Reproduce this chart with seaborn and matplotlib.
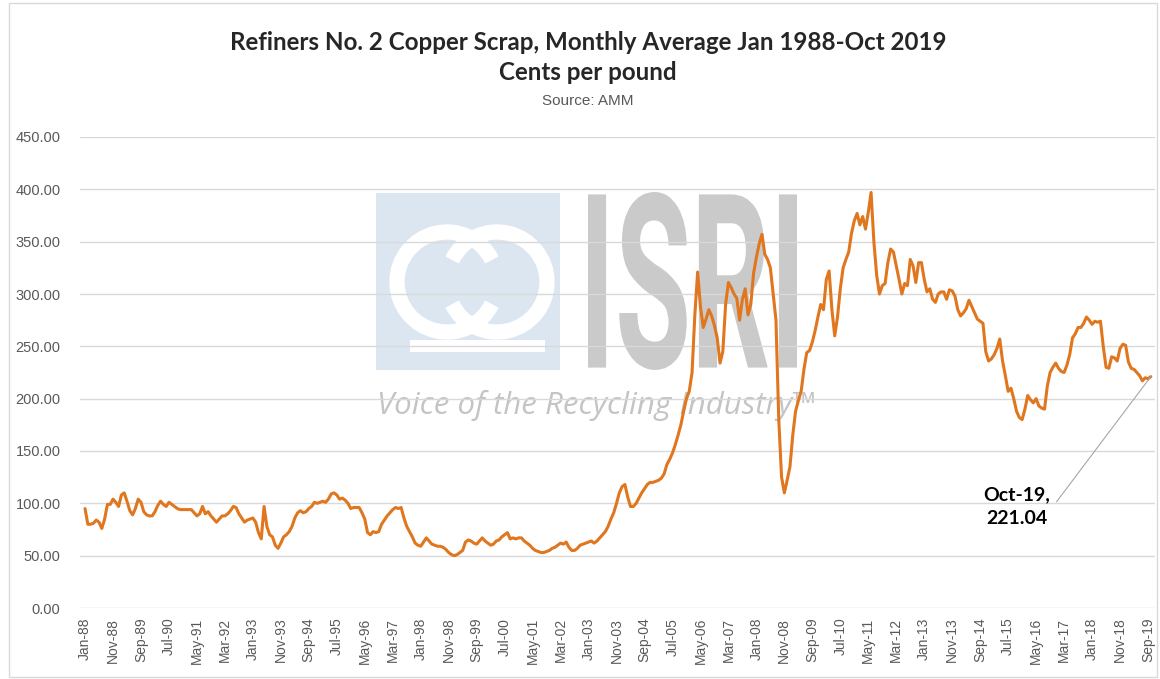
# ============================================================
# REFINERS NO. 2 COPPER SCRAP - MONTHLY AVERAGE 1988-2019
# ============================================================

import pandas as pd
import matplotlib
matplotlib.use("Agg")
import matplotlib.pyplot as plt
import seaborn as sns
from matplotlib.patches import Rectangle, Arc, PathPatch
from matplotlib.textpath import TextPath
from matplotlib.font_manager import FontProperties
from matplotlib.transforms import Affine2D

# Monthly averages (cents per pound), Jan 1988 -> Oct 2019
precios_1988_1995 = [
    95, 80, 80, 81, 84, 82, 76, 85, 99, 99, 104, 101,
    97, 108, 110, 102, 93, 89, 95, 104, 101, 92, 89, 88,
    88, 92, 98, 102, 99, 97, 101, 99, 97, 95, 94, 94,
    94, 94, 94, 91, 88, 90, 97, 90, 92, 88, 85, 82,
    85, 88, 88, 90, 93, 97, 96, 90, 86, 82, 84, 85,
    86, 82, 72, 66, 97, 78, 70, 68, 60, 57, 62, 68,
    70, 73, 78, 86, 91, 93, 91, 92, 95, 97, 101, 100,
    101, 102, 101, 104, 109, 110, 108, 104, 105, 103, 100, 95,
]
precios_1996_2003 = [
    96, 96, 96, 91, 85, 72, 70, 73, 72, 73, 80, 84,
    88, 91, 94, 96, 95, 96, 86, 78, 73, 68, 62, 60,
    59, 63, 67, 64, 61, 60, 59, 59, 58, 56, 53, 51,
    50, 51, 53, 55, 63, 65, 64, 62, 61, 64, 67, 64,
    62, 60, 61, 64, 65, 68, 70, 72, 66, 67, 66, 67,
    67, 64, 62, 60, 57, 55, 54, 53, 53, 54, 55, 57,
    58, 60, 62, 61, 63, 58, 55, 55, 57, 60, 61, 62,
    63, 64, 62, 64, 67, 70, 73, 78, 85, 91, 100, 110,
]
precios_2004_2011 = [
    116, 118, 106, 97, 97, 100, 105, 110, 114, 118, 120, 120,
    121, 122, 124, 128, 137, 142, 148, 156, 165, 175, 188, 200,
    207, 225, 280, 321, 288, 268, 276, 285, 279, 270, 258, 234,
    245, 290, 311, 306, 300, 296, 275, 295, 305, 280, 290, 320,
    335, 348, 357, 338, 333, 325, 300, 275, 180, 125, 110, 122,
    135, 165, 188, 198, 207, 228, 244, 246, 254, 265, 278, 290,
    285, 314, 322, 285, 260, 278, 305, 325, 333, 340, 358, 370,
    377, 366, 374, 362, 378, 397, 350, 318, 300, 308, 310, 330,
]
precios_2012_2019 = [
    343, 340, 327, 314, 300, 310, 308, 333, 327, 311, 330, 330,
    314, 302, 305, 295, 292, 300, 302, 302, 295, 304, 303, 298,
    285, 279, 282, 286, 294, 288, 282, 276, 274, 272, 245, 236,
    238, 242, 248, 257, 236, 222, 207, 210, 200, 188, 182, 180,
    190, 203, 199, 196, 200, 193, 191, 190, 212, 225, 230, 234,
    229, 226, 225, 232, 242, 258, 262, 268, 268, 272, 278, 275,
    271, 274, 273, 274, 250, 230, 229, 240, 239, 236, 248, 252,
    251, 235, 229, 228, 225, 222, 217, 220, 219, 221.04,
]

titulo = "Refiners No. 2 Copper Scrap, Monthly Average Jan 1988-Oct 2019"
subtitulo = "Cents per pound"
fuente = "Source: AMM"
etiqueta_final = "Oct-19,\n221.04"

precios = precios_1988_1995 + precios_1996_2003 + precios_2004_2011 + precios_2012_2019
fechas = pd.date_range("1988-01-01", periods=len(precios), freq="MS")
df = pd.DataFrame({"idx": range(len(precios)), "fecha": fechas, "precio": precios})

# ============================================================
# FIGURE
# ============================================================

W, H = 1160, 679


def fx(x):
    return x / W


def fy(y):
    return 1 - y / H


sns.set_theme(style="white")
plt.rcParams["font.family"] = ["Liberation Sans", "DejaVu Sans"]

fig = plt.figure(figsize=(W / 100, H / 100), dpi=100)
ax = fig.add_axes([fx(80), fy(608), fx(1155) - fx(80), fy(137) - fy(608)])
ax.set_facecolor("none")

# watermark (ISRI logo) behind the plot
fig.add_artist(Rectangle((fx(376), fy(370)), fx(560) - fx(376), fy(193) - fy(370),
                         transform=fig.transFigure, fc="#DCE6F1", ec="none", zorder=-2))
for cx, t1, t2 in [(447, 40, 320), (497, 220, 140)]:
    fig.add_artist(Arc((fx(cx), fy(282)), 100 / W, 100 / H, theta1=t1, theta2=t2,
                       transform=fig.transFigure, color="white", lw=11, zorder=-1))
fig.add_artist(Rectangle((fx(410), fy(352)), fx(545) - fx(410), 12 / H,
                         transform=fig.transFigure, fc="white", ec="none", zorder=-1))

tp = TextPath((0, 0), "ISRI", size=100, prop=FontProperties(family="Roboto", weight="bold"))
ext = tp.get_extents()
x0, x1, y0, y1 = fx(588), fx(797), fy(370), fy(192)
tr = (Affine2D().translate(-ext.x0, -ext.y0)
      .scale((x1 - x0) / ext.width, (y1 - y0) / ext.height)
      .translate(x0, y0) + fig.transFigure)
fig.add_artist(PathPatch(tp, transform=tr, fc="#CACACA", ec="none", zorder=-1))
fig.text(fx(597), fy(405), "Voice of the Recycling Industry\u2122", ha="center", va="center",
         fontsize=22.5, style="italic", color="#C4C4C4", family="Open Sans", zorder=-1)

# chart border
fig.add_artist(Rectangle((fx(9), fy(677)), fx(1157) - fx(9), fy(3) - fy(677),
                         transform=fig.transFigure, fill=False, ec="#D9D9D9", lw=1))

# ============================================================
# LINE
# ============================================================

sns.lineplot(data=df, x="idx", y="precio", ax=ax, color="#E0761E", linewidth=2.2, zorder=3)

ax.set_xlim(-1.8, 382.5)
ax.set_ylim(0, 450)
ax.set_yticks(range(0, 451, 50))
ax.set_yticklabels([f"{v:.2f}" for v in range(0, 451, 50)])
pos = list(range(0, len(precios), 10))
ax.set_xticks(pos)
ax.set_xticklabels([fechas[p].strftime("%b-%y") for p in pos], rotation=90)
ax.tick_params(axis="y", length=0, pad=14, labelsize=10.5, labelcolor="#595959")
ax.tick_params(axis="x", length=0, pad=7, labelsize=10, labelcolor="#595959")
ax.grid(axis="y", color="#D9D9D9", linewidth=1)
ax.set_axisbelow(True)
for s in ax.spines.values():
    s.set_visible(False)
ax.set_xlabel("")
ax.set_ylabel("")

# label for last value
ax.annotate(etiqueta_final, xy=(df["idx"].iloc[-1], df["precio"].iloc[-1]), xytext=(333, 97),
            ha="center", va="center", fontsize=14, fontweight="bold", family="Lato",
            color="black", linespacing=1.45,
            arrowprops=dict(arrowstyle="-", color="#A6A6A6", lw=0.8,
                            shrinkA=4, shrinkB=0, relpos=(1.0, 0.4)))

# titles
fig.text(fx(588), fy(42), titulo, ha="center", va="center", fontsize=17.4,
         fontweight="bold", family="Lato")
fig.text(fx(588), fy(73), subtitulo, ha="center", va="center", fontsize=17.4,
         fontweight="bold", family="Lato")
fig.text(fx(588), fy(101), fuente, ha="center", va="center", fontsize=11,
         color="#595959")

fig.savefig("out.png", dpi=100)
